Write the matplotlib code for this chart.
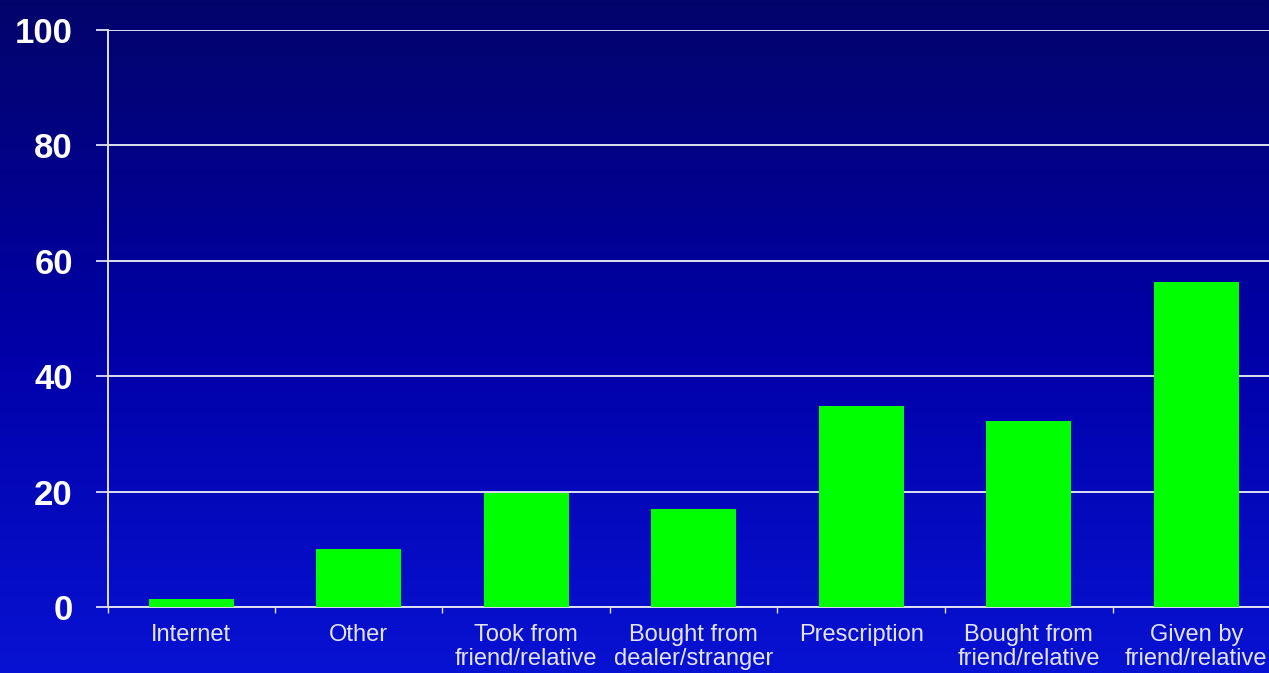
import numpy as np
import matplotlib
matplotlib.use("Agg")
import matplotlib.pyplot as plt
from matplotlib.colors import LinearSegmentedColormap

categories = ["Internet", "Other", "Took from\nfriend/relative", "Bought from\ndealer/stranger",
              "Prescription", "Bought from\nfriend/relative", "Given by\nfriend/relative"]
values = [1.4, 10.0, 19.7, 17.0, 34.8, 32.2, 56.3]
yticks = [0, 20, 40, 60, 80, 100]

plt.rcParams['font.family'] = ['Liberation Sans', 'DejaVu Sans']

W, H = 1269, 673
fig = plt.figure(figsize=(W / 100, H / 100), dpi=100)

# background gradient
bg = fig.add_axes([0, 0, 1, 1], zorder=0)
cmap = LinearSegmentedColormap.from_list("bg", ["#03046a", "#0000a6", "#0812d2"])
grad = np.linspace(0, 1, 256).reshape(-1, 1)
bg.imshow(grad, aspect="auto", cmap=cmap, extent=[0, 1, 1, 0])
bg.set_axis_off()

left = 107.5 / W
right = 1280 / W
bottom = 1 - 607 / H
top = 1 - 30 / H
ax = fig.add_axes([left, bottom, right - left, top - bottom], zorder=1)
ax.set_facecolor("none")

x = np.arange(len(categories))
ax.bar(x, values, width=0.51, color="#00ff00", zorder=3)

ax.set_xlim(-0.5, len(categories) - 0.5)
ax.set_ylim(0, 100)
ax.set_yticks(yticks)
ax.set_yticklabels([str(v) for v in yticks], fontsize=25, fontweight="bold", color="white")
ax.tick_params(axis="y", length=9, width=1.3, color="#e0e0f0", pad=16)

ax.set_xticks(x)
ax.set_xticklabels(categories, fontsize=17, color="#e4e4f4", linespacing=1.12)
ax.tick_params(axis="x", which="major", length=0, pad=12)
ax.set_xticks(np.arange(-0.5, len(categories), 1.0), minor=True)
ax.tick_params(axis="x", which="minor", length=4, width=1.0, color="#e0e0f0")

ax.grid(axis="y", color="#e0e0f0", linewidth=1.4, zorder=1)
ax.set_axisbelow(True)
for s in ["top", "right"]:
    ax.spines[s].set_visible(False)
for s in ["left", "bottom"]:
    ax.spines[s].set_color("#e0e0f0")
    ax.spines[s].set_linewidth(1.4)

fig.savefig("out.png", dpi=100)
